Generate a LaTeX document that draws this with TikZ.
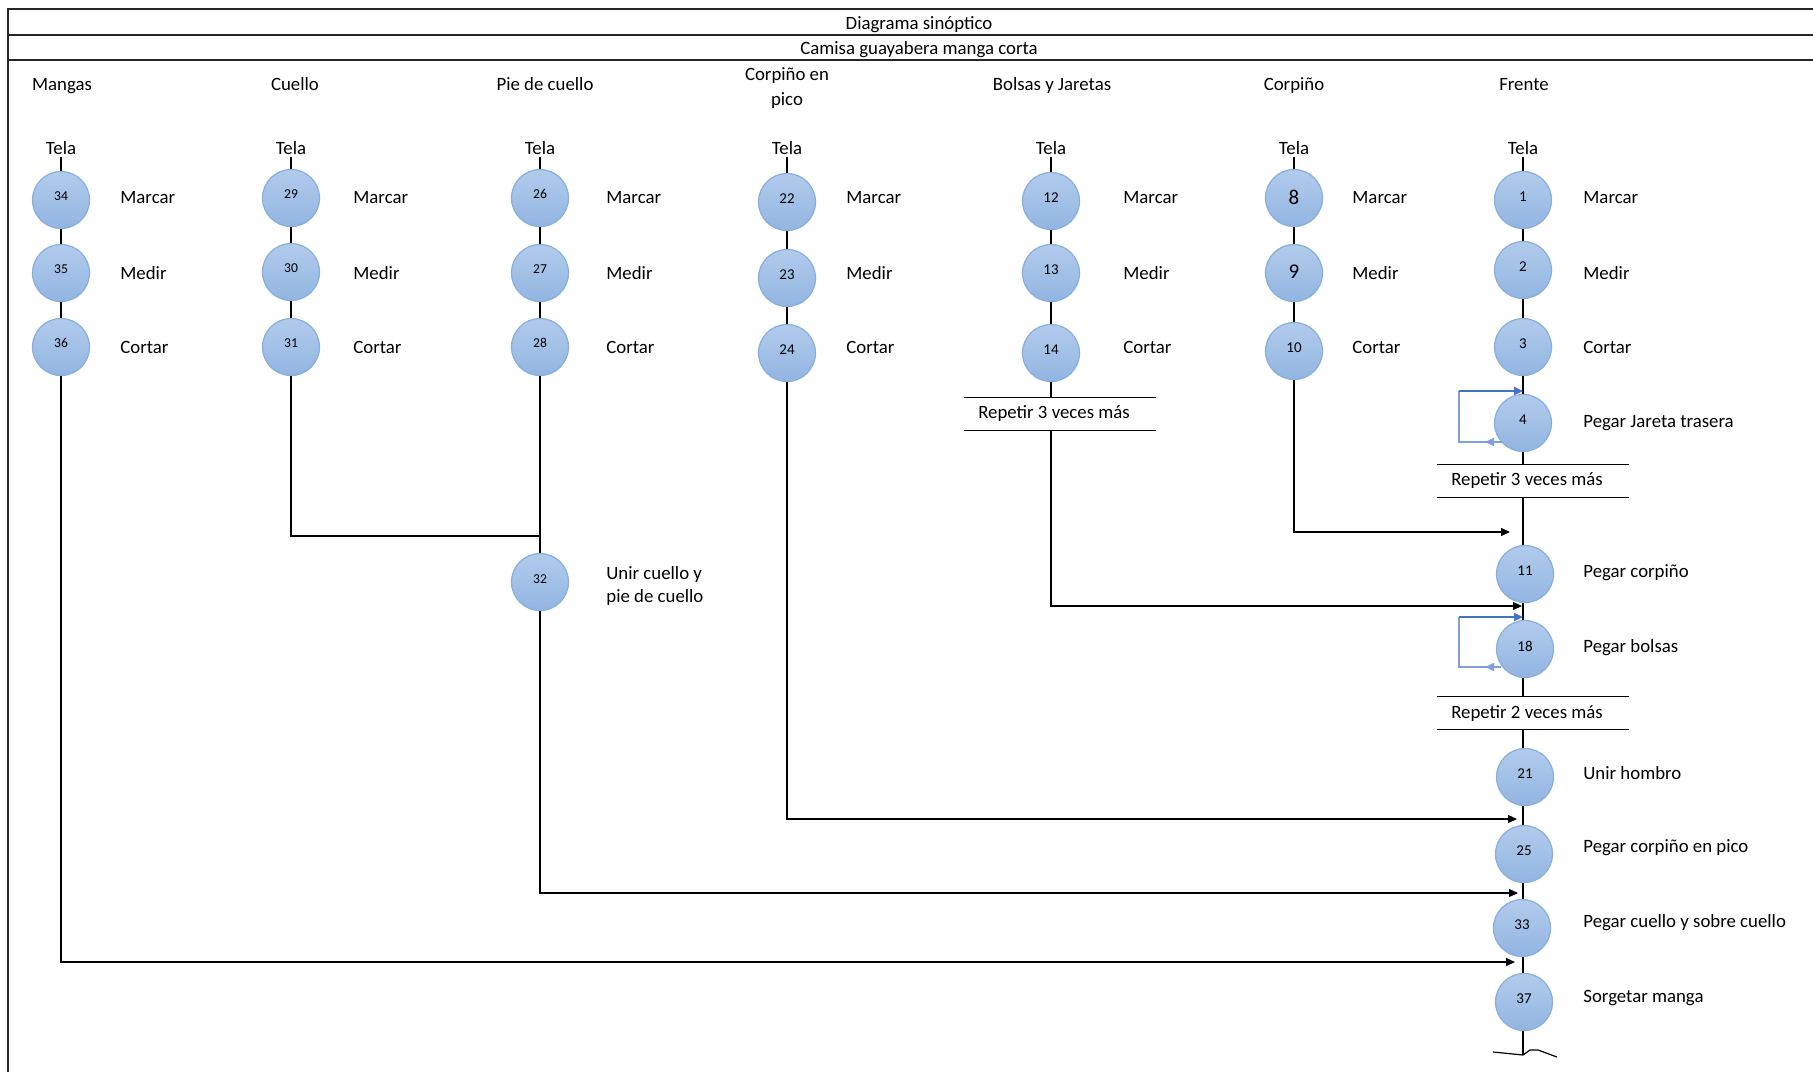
\documentclass[tikz,border=0pt]{standalone}
\usepackage{fontspec}
\setmainfont{Carlito}
\usetikzlibrary{arrows.meta,calc}
\definecolor{cTop}{HTML}{B2CBEC}
\definecolor{cBot}{HTML}{92B5E1}
\definecolor{cEdge}{HTML}{86AEDF}
\definecolor{loopD}{HTML}{4472C4}
\definecolor{loopL}{HTML}{7E9FDC}
\begin{document}
\begin{tikzpicture}[x=0.5pt,y=-0.5pt,
  proc/.style={circle,minimum size=28.5pt,inner sep=0pt,top color=cTop,bottom color=cBot,draw=cEdge,line width=0.6pt,font=\fontsize{7.5}{8}\selectfont},
  small/.style={font=\fontsize{6.8}{7}\selectfont},
  big/.style={font=\fontsize{10.5}{11}\selectfont},
  lbl/.style={anchor=west,inner sep=0pt,font=\fontsize{9.4}{11.5}\selectfont,align=left},
  hdr/.style={inner sep=0pt,font=\fontsize{9.4}{12.5}\selectfont,align=center},
  hdb/.style={inner sep=0pt,anchor=base,font=\fontsize{9.4}{12.5}\selectfont},
  rep/.style={minimum width=96pt,minimum height=16pt,inner sep=0pt,font=\fontsize{9.4}{11}\selectfont},
  ln/.style={line width=0.6pt,black},
  arr/.style={line width=0.6pt,black,-{Triangle[length=4.5pt,width=4pt]}},
  frame/.style={line width=1pt,black!85}
]
\useasboundingbox (0,0) rectangle (1813,1072);
% frame
\draw[frame] (1813,9) -- (8,9) -- (8,1072);
\draw[frame] (8,35) -- (1813,35);
\draw[frame] (8,60) -- (1813,60);
\node[hdb] (t1) at (919,29) {Diagrama sinóptico};
\node[hdb] (t2) at (919,54) {Camisa guayabera manga corta};
% headings
\node[hdb] (hM) at (62,90) {Mangas};
\node[hdb] (hC) at (295,90) {Cuello};
\node[hdb] (hP) at (545,90) {Pie de cuello};
\node[hdr] (hK) at (787,88) {Corpiño en\\pico};
\node[hdb] (hB) at (1052,90) {Bolsas y Jaretas};
\node[hdb] (hO) at (1294,90) {Corpiño};
\node[hdb] (hF) at (1524,90) {Frente};
% Tela
\foreach \n/\x in {M/61,C/291,P/540,K/787,B/1051,O/1294,F/1523}
  \node[hdr] (tela\n) at (\x,148) {Tela};
% Mangas
\node[proc,small] (c34) at (61,200) {\raisebox{4pt}{34}};
\node[proc,small] (c35) at (61,273) {\raisebox{4pt}{35}};
\node[proc,small] (c36) at (61,347) {\raisebox{4pt}{36}};
\node[lbl] (l34) at (120,198) {Marcar};
\node[lbl] (l35) at (120,273) {Medir};
\node[lbl] (l36) at (120,347) {Cortar};
% Cuello
\node[proc,small] (c29) at (291,198) {\raisebox{4pt}{29}};
\node[proc,small] (c30) at (291,272) {\raisebox{4pt}{30}};
\node[proc,small] (c31) at (291,347) {\raisebox{4pt}{31}};
\node[lbl] (l29) at (353,198) {Marcar};
\node[lbl] (l30) at (353,273) {Medir};
\node[lbl] (l31) at (353,347) {Cortar};
% Pie de cuello
\node[proc,small] (c26) at (540,198) {\raisebox{4pt}{26}};
\node[proc,small] (c27) at (540,273) {\raisebox{4pt}{27}};
\node[proc,small] (c28) at (540,347) {\raisebox{4pt}{28}};
\node[proc,small] (c32) at (540,582) {\raisebox{3pt}{32}};
\node[lbl] (l26) at (606,198) {Marcar};
\node[lbl] (l27) at (606,273) {Medir};
\node[lbl] (l28) at (606,347) {Cortar};
\node[lbl] (l32) at (606,586) {Unir cuello y\\pie de cuello};
% Corpino en pico
\node[proc] (c22) at (787,202) {\raisebox{3pt}{22}};
\node[proc] (c23) at (787,278) {\raisebox{3pt}{23}};
\node[proc] (c24) at (787,353) {\raisebox{3pt}{24}};
\node[lbl] (l22) at (846,198) {Marcar};
\node[lbl] (l23) at (846,273) {Medir};
\node[lbl] (l24) at (846,347) {Cortar};
% Bolsas y Jaretas
\node[proc] (c12) at (1051,201) {\raisebox{3pt}{12}};
\node[proc] (c13) at (1051,273) {\raisebox{3pt}{13}};
\node[proc] (c14) at (1051,353) {\raisebox{3pt}{14}};
\node[lbl] (l12) at (1123,198) {Marcar};
\node[lbl] (l13) at (1123,273) {Medir};
\node[lbl] (l14) at (1123,347) {Cortar};
\node[rep] (r1) at (1054,414) {Repetir 3 veces más};
% Corpino
\node[proc,big] (c8) at (1294,198) {\raisebox{1pt}{8}};
\node[proc,big] (c9) at (1294,273) {\raisebox{1pt}{9}};
\node[proc] (c10) at (1294,351) {\raisebox{3pt}{10}};
\node[lbl] (l8) at (1352,198) {Marcar};
\node[lbl] (l9) at (1352,273) {Medir};
\node[lbl] (l10) at (1352,347) {Cortar};
% Frente
\node[proc] (c1) at (1523,200) {\raisebox{3pt}{1}};
\node[proc] (c2) at (1523,270) {\raisebox{3pt}{2}};
\node[proc] (c3) at (1523,347) {\raisebox{3pt}{3}};
\node[proc] (c4) at (1523,423) {\raisebox{3pt}{4}};
\node[proc] (c11) at (1525,574) {\raisebox{3pt}{11}};
\node[proc] (c18) at (1525,649) {\raisebox{3pt}{18}};
\node[proc] (c21) at (1525,777) {\raisebox{3pt}{21}};
\node[proc] (c25) at (1524,854) {\raisebox{3pt}{25}};
\node[proc] (c33) at (1522,928) {\raisebox{3pt}{33}};
\node[proc] (c37) at (1524,1002) {\raisebox{3pt}{37}};
\node[lbl] (l1) at (1583,198) {Marcar};
\node[lbl] (l2) at (1583,273) {Medir};
\node[lbl] (l3) at (1583,347) {Cortar};
\node[lbl] (l4) at (1583,423) {Pegar Jareta trasera};
\node[lbl] (l11) at (1583,573) {Pegar corpiño};
\node[lbl] (l18) at (1583,648) {Pegar bolsas};
\node[lbl] (l21) at (1583,773) {Unir hombro};
\node[lbl] (l25) at (1583,848) {Pegar corpiño en pico};
\node[lbl] (l33) at (1583,923) {Pegar cuello y sobre cuello};
\node[lbl] (l37) at (1583,998) {Sorgetar manga};
\node[rep] (r2) at (1527,481) {Repetir 3 veces más};
\node[rep] (r3) at (1527,713) {Repetir 2 veces más};
% repetir lines
\foreach \r in {r1,r2,r3}{
  \draw[ln] ([xshift=3pt]\r.north west) -- ([xshift=3pt]\r.north east);
  \draw[ln] ([xshift=3pt]\r.south west) -- ([xshift=3pt]\r.south east);
}
% coordinates
\coordinate (eO) at (1510,532);
\coordinate (eB) at (1522,606);
\coordinate (eK) at (1517,819);
\coordinate (eP) at (1518,893);
\coordinate (eM) at (1515,962);
\coordinate (jP) at (540,536);
\coordinate (wv) at (1523,1055);
% columns
\draw[ln] ([yshift=-1pt]telaM.south) -- (c34) (c34) -- (c35) (c35) -- (c36);
\draw[ln] ([yshift=-1pt]telaC.south) -- (c29) (c29) -- (c30) (c30) -- (c31);
\draw[ln] ([yshift=-1pt]telaP.south) -- (c26) (c26) -- (c27) (c27) -- (c28);
\draw[ln] ([yshift=-1pt]telaK.south) -- (c22) (c22) -- (c23) (c23) -- (c24);
\draw[ln] ([yshift=-1pt]telaB.south) -- (c12) (c12) -- (c13) (c13) -- (c14);
\draw[ln] ([yshift=-1pt]telaO.south) -- (c8) (c8) -- (c9) (c9) -- (c10);
\draw[ln] ([yshift=-1pt]telaF.south) -- (c1) (c1) -- (c2) (c2) -- (c3) (c3) -- (c4);
\draw[ln] (c4.south) -- (c4.south |- r2.north);
\draw[ln] (c4 |- r2.south) -- (c11.north -| c4);
\draw[ln] (c11.south -| c4) -- (c18.north -| c4);
\draw[ln] (c18.south -| c4) -- (c4 |- r3.north);
\draw[ln] (c4 |- r3.south) -- (c21.north -| c4);
\draw[ln] (c21.south -| c4) -- (c25.north -| c4);
\draw[ln] (c25.south -| c4) -- (c33.north -| c4);
\draw[ln] (c33.south -| c4) -- (c37.north -| c4);
\draw[ln] (c37.south -| c4) -- (wv);
\draw[ln] (1493,1052) -- (wv) -- (1530,1050) -- (1538,1050) -- (1557,1057);
% connectors to Frente
\draw[arr] (c36.south) |- (eM);
\draw[ln] (c31.south) |- (jP);
\draw[ln] (c28.south) -- (c32.north);
\draw[arr] (c32.south) |- (eP);
\draw[arr] (c24.south) |- (eK);
\draw[ln] (c14.south) -- (c14.south |- r1.north);
\draw[arr] (c14 |- r1.south) |- (eB);
\draw[arr] (c10.south) |- (eO);
% loops
\draw[line width=0.9pt,loopL] ($(c4)+(-21,19)$) -- ($(c4)+(-64,19)$) -- ($(c4)+(-64,-32)$);
\draw[line width=0.9pt,loopD,-{Triangle[length=4.5pt,width=4pt]}] ($(c4)+(-64,-32)$) -- ($(c4)+(0,-32)$);
\draw[line width=0.9pt,loopL,-{Triangle[length=4.5pt,width=4pt]}] ($(c4)+(-21,19)$) -- ($(c4)+(-38,19)$);
\draw[line width=0.9pt,loopL] ($(c18)+(-24,18)$) -- ($(c18)+(-66,18)$) -- ($(c18)+(-66,-32)$);
\draw[line width=0.9pt,loopD,-{Triangle[length=4.5pt,width=4pt]}] ($(c18)+(-66,-32)$) -- ($(c18)+(-2,-32)$);
\draw[line width=0.9pt,loopL,-{Triangle[length=4.5pt,width=4pt]}] ($(c18)+(-24,18)$) -- ($(c18)+(-40,18)$);
\end{tikzpicture}
\end{document}
